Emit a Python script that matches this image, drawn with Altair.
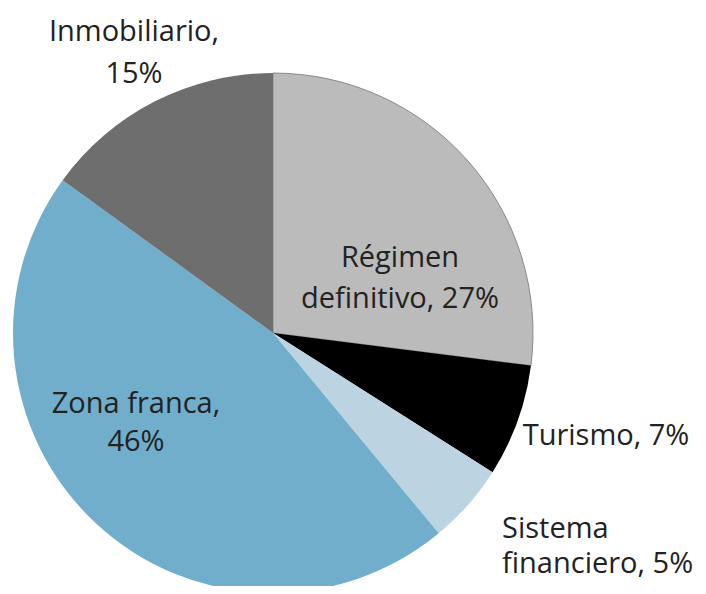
import altair as alt
import pandas as pd

categories = ["Régimen definitivo", "Turismo", "Sistema financiero", "Zona franca", "Inmobiliario"]
values = [27, 7, 5, 46, 15]
colors = ["#bbbbbb", "#000000", "#bcd4e1", "#70aecb", "#6e6e6e"]
outline = ["#8a8a8a", "transparent", "transparent", "transparent", "transparent"]

label_text = ["Inmobiliario,\n15%", "Régimen\ndefinitivo, 27%", "Turismo, 7%",
              "Sistema\nfinanciero, 5%", "Zona franca,\n46%"]
label_x = [126, 392, 598, 494, 128]
label_y = [24, 250, 428, 521, 396]
label_align = ["center", "center", "center", "left", "center"]
label_lh = [42, 41, 40, 35, 38]

df = pd.DataFrame({"cat": categories, "val": values, "order": list(range(len(categories)))})

W, H = 690, 578
CX, CY, R = 265, 325, 260

pie = alt.Chart(df).mark_arc(outerRadius=R, strokeWidth=1).encode(
    theta=alt.Theta("val:Q", stack=True),
    order=alt.Order("order:Q"),
    color=alt.Color("cat:N", scale=alt.Scale(domain=categories, range=colors), legend=None),
    stroke=alt.Stroke("cat:N", scale=alt.Scale(domain=categories, range=outline), legend=None),
    x=alt.value(CX),
    y=alt.value(CY),
)

layers = [pie]
for t, x, y, a, lh in zip(label_text, label_x, label_y, label_align, label_lh):
    d = pd.DataFrame({"t": [t], "x": [x], "y": [y]})
    layers.append(
        alt.Chart(d).mark_text(
            font="Open Sans", fontSize=29, color="#222222", align=a,
            baseline="middle", lineBreak="\n", lineHeight=lh
        ).encode(
            x=alt.X("x:Q", scale=None),
            y=alt.Y("y:Q", scale=None),
            text="t:N",
        )
    )

chart = alt.layer(*layers).properties(
    width=W, height=H, padding=0, autosize="none"
).configure_view(stroke=None)

chart.save("out.html", embed_options={"renderer": "svg", "actions": False})
